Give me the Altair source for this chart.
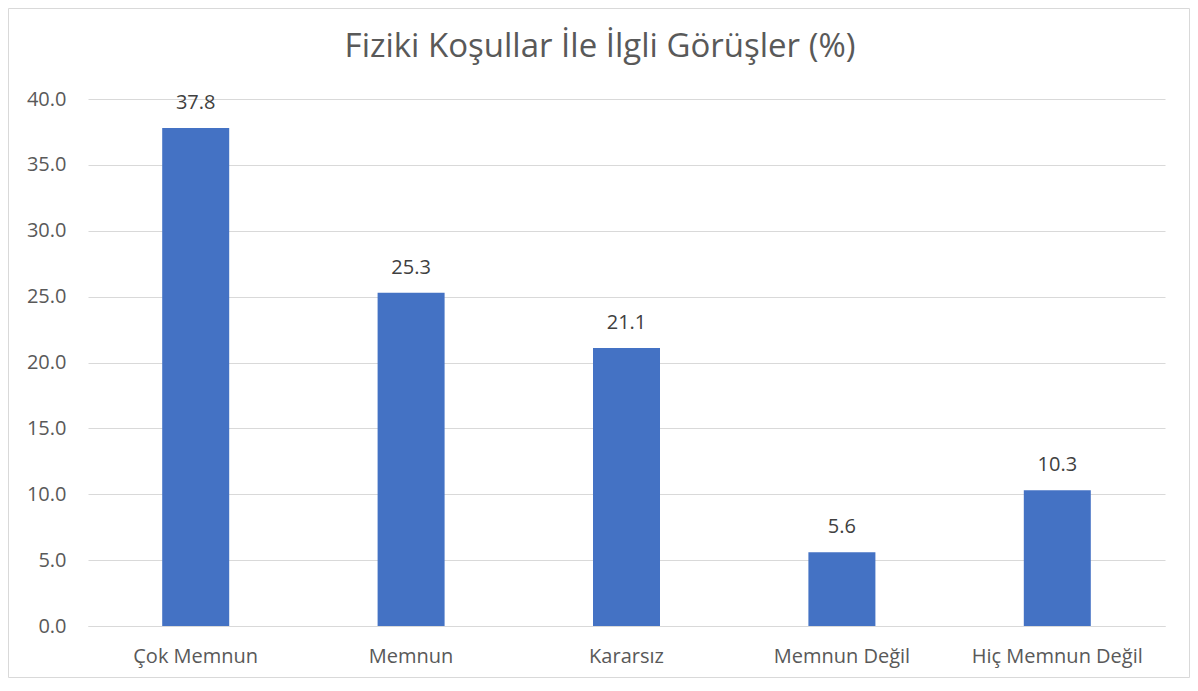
import altair as alt
import pandas as pd

categories = ["Çok Memnun", "Memnun", "Kararsız", "Memnun Değil", "Hiç Memnun Değil"]
values = [37.8, 25.3, 21.1, 5.6, 10.3]
title_text = "Fiziki Koşullar İle İlgli Görüşler (%)"

df = pd.DataFrame({"kategori": categories, "deger": values})

W, H = 1077, 527
PAD_L, PAD_T, PAD_R, PAD_B = 80, 91, 25, 52
FONT = "Open Sans"
TXT = "#595959"
FS = 20

x_enc = alt.X("kategori:N", sort=categories, title=None,
              scale=alt.Scale(paddingInner=0, paddingOuter=0),
              axis=alt.Axis(labelAngle=0, labelFontSize=FS, labelColor=TXT, labelFont=FONT,
                            ticks=False, domain=True, domainColor="#d9d9d9", labelPadding=20,
                            grid=False))
y_enc = alt.Y("deger:Q", title=None,
              scale=alt.Scale(domain=[0, 40]),
              axis=alt.Axis(values=[0, 5, 10, 15, 20, 25, 30, 35, 40], format=".1f",
                            labelFontSize=FS, labelColor=TXT, labelFont=FONT,
                            ticks=False, domain=False, gridColor="#d9d9d9", labelPadding=22))

bars = alt.Chart(df).mark_bar(color="#4472C4", size=67).encode(x=x_enc, y=y_enc)
labels = alt.Chart(df).mark_text(dy=-15, baseline="bottom", fontSize=FS, color="#404040", font=FONT).encode(
    x=alt.X("kategori:N", sort=categories), y="deger:Q", text=alt.Text("deger:Q", format=".1f"))

one = pd.DataFrame({"t": [title_text]})
title = alt.Chart(one).mark_text(fontSize=33, font=FONT, color=TXT, baseline="middle", align="center").encode(
    x=alt.value(512), y=alt.value(-52), text="t:N")

border = alt.Chart(one).mark_rect(fill=None, stroke="#d9d9d9", strokeWidth=1).encode(
    x=alt.value(-PAD_L + 0.5), x2=alt.value(W + PAD_R - 0.5),
    y=alt.value(-PAD_T + 0.5), y2=alt.value(H + PAD_B - 0.5))

chart = alt.layer(bars, labels, title, border).properties(
    width=W, height=H,
    autosize=alt.AutoSizeParams(type="none"),
    padding={"left": PAD_L, "top": PAD_T, "right": PAD_R, "bottom": PAD_B},
).configure(background="white", view=alt.ViewConfig(stroke=None))

chart.save("out.html", embed_options={"renderer": "svg", "actions": False})
